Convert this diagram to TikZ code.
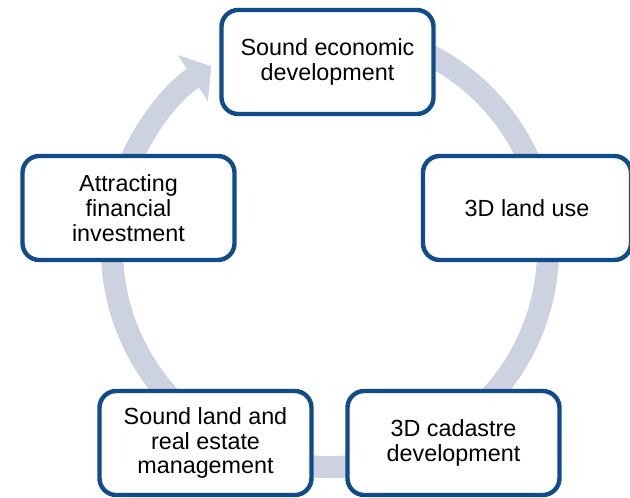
\documentclass[tikz,border=0pt]{standalone}
\usepackage{fontspec}
\setmainfont{Liberation Sans}
\usetikzlibrary{arrows.meta}
\definecolor{boxblue}{RGB}{16,76,138}
\definecolor{ringgray}{RGB}{205,210,224}
\begin{document}
\begin{tikzpicture}[x=0.025cm,y=-0.025cm]
			\tikzstyle{cyclebox}=[draw=boxblue,line width=0.11cm,rounded corners=0.42cm,fill=white,align=center,minimum width=5.3cm,minimum height=2.6cm,font=\fontsize{16.6}{17.7}\selectfont]
			\useasboundingbox (0,0) rectangle (630,498);
			\coordinate (o) at (330,249);
			\draw[ringgray,line width=0.55cm,-{Triangle[length=0.55cm,width=1.35cm]}] (o) ++(-70:218) arc[start angle=-70,end angle=237,radius=218];
			\node[cyclebox] (econ) at (327.5,62) {Sound economic\\development};
			\node[cyclebox] (invest) at (128.5,208) {Attracting\\financial\\investment};
			\node[cyclebox,minimum width=5.2cm] (landuse) at (527,208) {3D land use};
			\node[cyclebox] (manage) at (205.5,443) {Sound land and\\real estate\\management};
			\node[cyclebox] (cadastre) at (453.5,443) {3D cadastre\\development};
\end{tikzpicture}
\end{document}
